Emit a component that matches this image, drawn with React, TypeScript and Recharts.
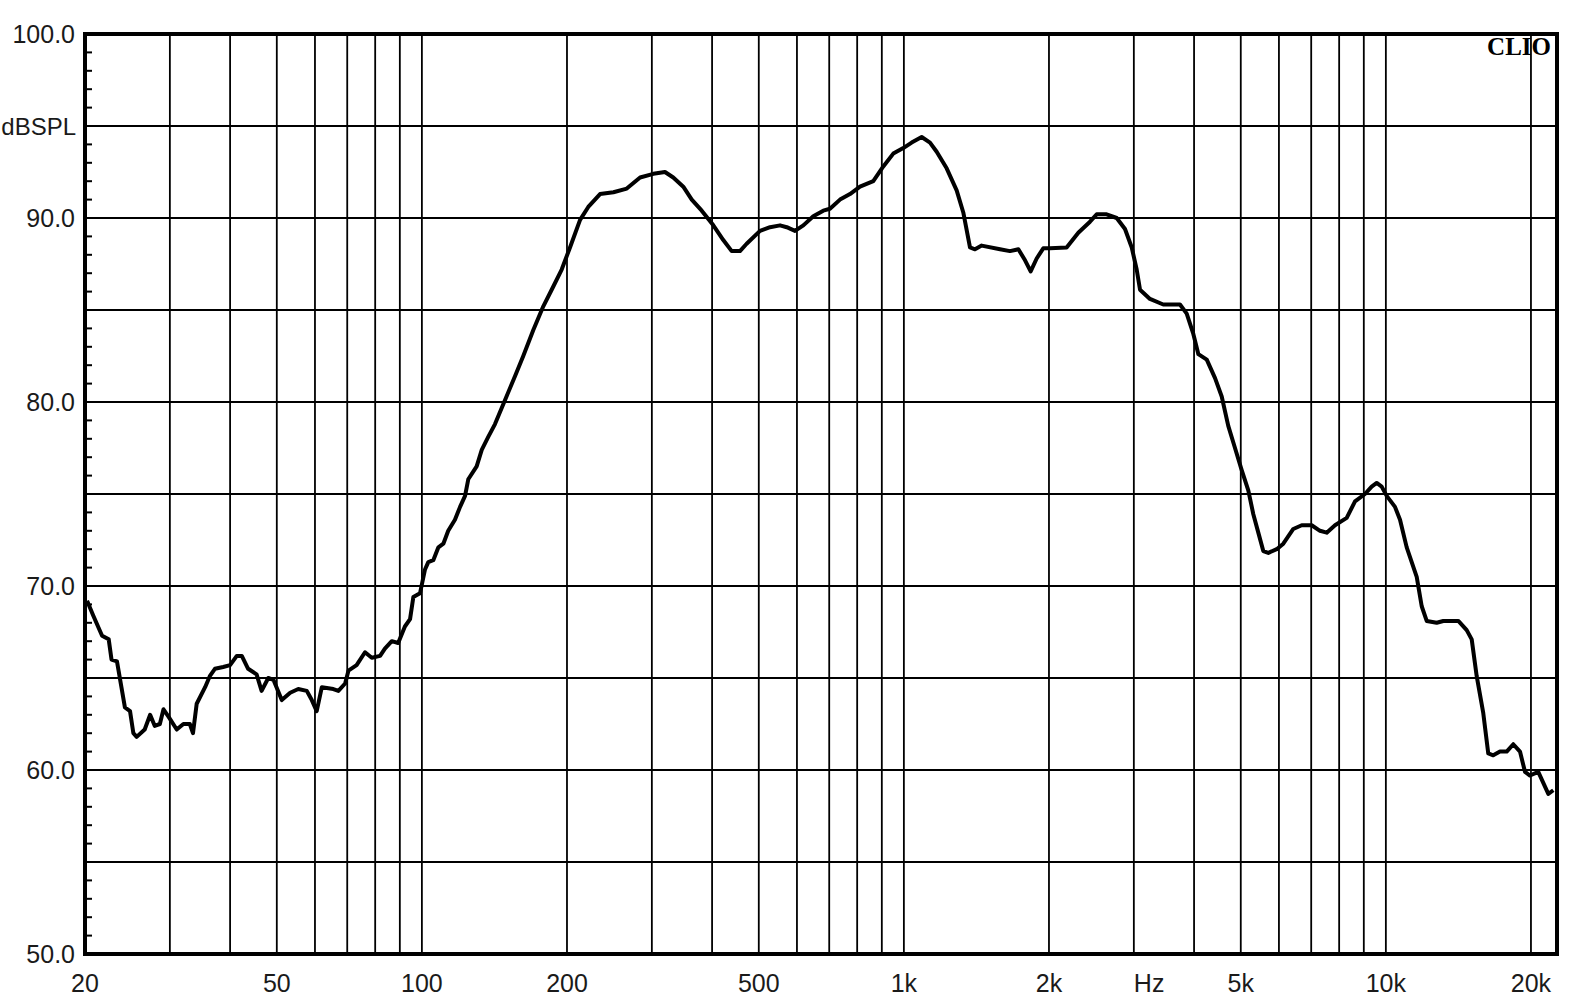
import React from "react";
import {
  LineChart,
  Line,
  XAxis,
  YAxis,
  ReferenceLine,
  ReferenceArea,
} from "recharts";

const FREQS = [
  20.2, 20.8, 21.7, 22.4, 22.7, 23.3, 23.8, 24.2, 24.8, 25.2, 25.6, 26.6, 27.3, 27.9, 28.6, 29.1, 29.8,
  31.0, 32.0, 33.0, 33.5, 34.1, 35.5, 36.3, 37.2, 38.7, 40.0, 41.3, 42.3, 43.6, 45.4, 46.5, 48.0, 49.2,
  51.2, 53.3, 55.4, 57.7, 59.1, 60.5, 62.0, 65.5, 67.1, 69.3, 70.4, 73.2, 76.2, 78.7, 81.9, 83.8, 86.6,
  89.3, 92.2, 94.5, 96.0, 99.1, 101.5, 103.1, 105.6, 108.2, 110.8, 113.4, 117.1, 120.0, 122.9, 124.8,
  129.9, 133.1, 137.3, 141.8, 148.7, 156.0, 162.3, 170.2, 178.6, 185.9, 195.0, 202.9, 212.9, 221.4,
  234.2, 249.7, 266.1, 283.6, 302.1, 319.4, 332.3, 348.6, 363.0, 380.7, 402.4, 422.0, 439.3, 457.0,
  471.8, 503, 527.7, 553.4, 571.4, 594.4, 618.6, 648.7, 680.4, 702.5, 737, 773, 810.9, 864, 906.4,
  950.6, 997.1, 1037.8, 1088.7, 1132.9, 1169.6, 1226.8, 1286.8, 1328.2, 1371.4, 1404.6, 1450.3,
  1582.9, 1659.9, 1728.1, 1784.1, 1832.5, 1885.9, 1946, 2010, 2176, 2301, 2433, 2512, 2634, 2764,
  2876, 2970, 3041, 3090, 3240, 3452, 3740, 3862, 3986, 4083, 4250, 4422, 4565, 4710, 4864, 5022,
  5183, 5309, 5437, 5568, 5702, 5937, 6127, 6426, 6690, 7016, 7300, 7538, 7843, 8294, 8630, 9050,
  9344, 9572, 9802, 10040, 10446, 10700, 11047, 11588, 11868, 12154, 12748, 13158, 14136, 14714,
  15070, 15434, 15924, 16310, 16704, 17248, 17810, 18380, 18980, 19438, 19906, 20712, 21388, 21730,
  22254,
];

const SPL = [
  69.2, 68.4, 67.3, 67.1, 66.0, 65.9, 64.5, 63.4, 63.2, 62.0, 61.8, 62.2, 63.0, 62.4, 62.5, 63.3, 62.9,
  62.2, 62.5, 62.5, 62.0, 63.6, 64.5, 65.1, 65.5, 65.6, 65.7, 66.2, 66.2, 65.5, 65.2, 64.3, 65.0, 64.9,
  63.8, 64.2, 64.4, 64.3, 63.8, 63.2, 64.5, 64.4, 64.3, 64.7, 65.4, 65.7, 66.4, 66.1, 66.2, 66.6, 67.0,
  66.9, 67.8, 68.2, 69.4, 69.6, 70.9, 71.3, 71.4, 72.1, 72.3, 73.0, 73.6, 74.3, 74.9, 75.8,
  76.5, 77.4, 78.1, 78.8, 80.1, 81.4, 82.5, 83.9, 85.2, 86.1, 87.2, 88.4, 89.9, 90.6,
  91.3, 91.4, 91.6, 92.2, 92.4, 92.5, 92.2, 91.7, 91.0, 90.4, 89.6, 88.8, 88.2, 88.2,
  88.6, 89.3, 89.5, 89.6, 89.5, 89.3, 89.6, 90.1, 90.4, 90.5, 91.0, 91.3, 91.7, 92.0, 92.8,
  93.5, 93.8, 94.1, 94.4, 94.1, 93.6, 92.7, 91.5, 90.3, 88.4, 88.3, 88.5,
  88.3, 88.2, 88.3, 87.7, 87.1, 87.8, 88.35, 88.35, 88.4, 89.2, 89.8, 90.2, 90.2, 90.0,
  89.4, 88.4, 87.2, 86.1, 85.6, 85.3, 85.3, 84.8, 83.7, 82.6, 82.3, 81.3, 80.3, 78.7, 77.5, 76.3,
  75.2, 73.9, 72.9, 71.9, 71.8, 72.0, 72.3, 73.1, 73.3, 73.3, 73.0, 72.9, 73.3, 73.7, 74.6, 75.0,
  75.4, 75.6, 75.4, 74.9, 74.3, 73.6, 72.1, 70.5, 68.9, 68.1, 68.0, 68.1, 68.1, 67.6,
  67.1, 65.1, 63.1, 60.9, 60.8, 61.0, 61.0, 61.4, 61.0, 59.9, 59.7, 59.9, 59.1, 58.7,
  58.9,
];

const X_TICKS = [20, 50, 100, 200, 500, 1000, 2000, 3000, 5000, 10000, 20000];
const X_LABELS = ["20", "50", "100", "200", "500", "1k", "2k", "Hz", "5k", "10k", "20k"];
const X_GRID = [
  30, 40, 50, 60, 70, 80, 90, 100, 200, 300, 400, 500, 600, 700, 800, 900, 1000, 2000, 3000,
  4000, 5000, 6000, 7000, 8000, 9000, 10000, 20000,
];
const Y_GRID = [55, 60, 65, 70, 75, 80, 85, 90, 95];
const Y_LABEL_VALUES = [100, 95, 90, 80, 70, 60, 50];
const Y_LABEL_TEXTS = ["100.0", "dBSPL", "90.0", "80.0", "70.0", "60.0", "50.0"];
const X_DOMAIN = [20, 22650];
const Y_DOMAIN = [50, 100];

const data = FREQS.map((f, i) => ({ f, spl: SPL[i] }));
const yTicks = Array.from({ length: Y_DOMAIN[1] - Y_DOMAIN[0] + 1 }, (_, i) => Y_DOMAIN[0] + i);

const FONT = '"Liberation Sans", Arial, sans-serif';

const XTick = (props: any) => {
  const { x, y, payload } = props;
  const idx = X_TICKS.indexOf(payload.value);
  if (idx < 0) return null;
  const label = X_LABELS[idx];
  const isHz = label === "Hz";
  return (
    <text
      x={x}
      y={y + 38}
      textAnchor={isHz ? "start" : "middle"}
      fontFamily={FONT}
      fontSize={25}
      fill="#1a1a1a"
    >
      {label}
    </text>
  );
};

const LeftYTick = (props: any) => {
  const { x, y, payload } = props;
  const v = payload.value;
  const idx = Y_LABEL_VALUES.indexOf(v);
  const label = idx >= 0 ? Y_LABEL_TEXTS[idx] : null;
  const isUnit = label === "dBSPL";
  return (
    <g>
      {v % 5 !== 0 && <line x1={x} x2={x + 7} y1={y} y2={y} stroke="#000" strokeWidth={2} />}
      {label && (
        <text
          x={isUnit ? x - 9 : x - 10}
          y={y}
          dy="0.36em"
          textAnchor="end"
          fontFamily={FONT}
          fontSize={isUnit ? 24 : 25}
          fill="#1a1a1a"
        >
          {label}
        </text>
      )}
    </g>
  );
};

const RightYTick = (props: any) => {
  const { x, y, payload } = props;
  const v = payload.value;
  if (v % 5 === 0) return <g />;
  return <line x1={x} x2={x - 7} y1={y} y2={y} stroke="#000" strokeWidth={2} />;
};

export default function App() {
  return (
    <div style={{ position: "absolute", left: 0, top: 0, width: 1575, height: 1002, background: "#fff" }}>
      <LineChart
        width={1575}
        height={1002}
        data={data}
        margin={{ top: 34, right: 0, bottom: 0, left: 0 }}
      >
        <XAxis
          dataKey="f"
          type="number"
          scale="log"
          domain={X_DOMAIN}
          allowDataOverflow
          ticks={X_TICKS}
          interval={0}
          axisLine={false}
          tickLine={false}
          tickSize={0}
          tickMargin={0}
          height={48}
          tick={<XTick />}
        />
        <YAxis
          yAxisId="left"
          type="number"
          domain={Y_DOMAIN}
          ticks={yTicks}
          interval={0}
          axisLine={false}
          tickLine={false}
          tickSize={0}
          tickMargin={0}
          width={85}
          tick={<LeftYTick />}
        />
        <YAxis
          yAxisId="right"
          orientation="right"
          type="number"
          domain={Y_DOMAIN}
          ticks={yTicks}
          interval={0}
          axisLine={false}
          tickLine={false}
          tickSize={0}
          tickMargin={0}
          width={18}
          tick={<RightYTick />}
        />
        {X_GRID.map((v) => (
          <ReferenceLine key={"x" + v} x={v} yAxisId="left" stroke="#000" strokeWidth={1.8} />
        ))}
        {Y_GRID.map((v) => (
          <ReferenceLine key={"y" + v} y={v} yAxisId="left" stroke="#000" strokeWidth={1.8} />
        ))}
        <Line
          yAxisId="left"
          type="linear"
          dataKey="spl"
          stroke="#000"
          strokeWidth={4}
          strokeLinejoin="round"
          dot={false}
          isAnimationActive={false}
        />
        <ReferenceArea
          x1={X_DOMAIN[0]}
          x2={X_DOMAIN[1]}
          y1={Y_DOMAIN[0]}
          y2={Y_DOMAIN[1]}
          yAxisId="left"
          fill="none"
          fillOpacity={0}
          stroke="#000"
          strokeWidth={4}
        />
      </LineChart>
      <svg
        width={1575}
        height={1002}
        style={{ position: "absolute", left: 0, top: 0, pointerEvents: "none" }}
      >
        <text
          x={1551}
          y={55}
          textAnchor="end"
          fontFamily='"Liberation Serif", "Times New Roman", serif'
          fontWeight="bold"
          fontSize={25}
          fill="#000"
        >
          CLIO
        </text>
      </svg>
    </div>
  );
}
